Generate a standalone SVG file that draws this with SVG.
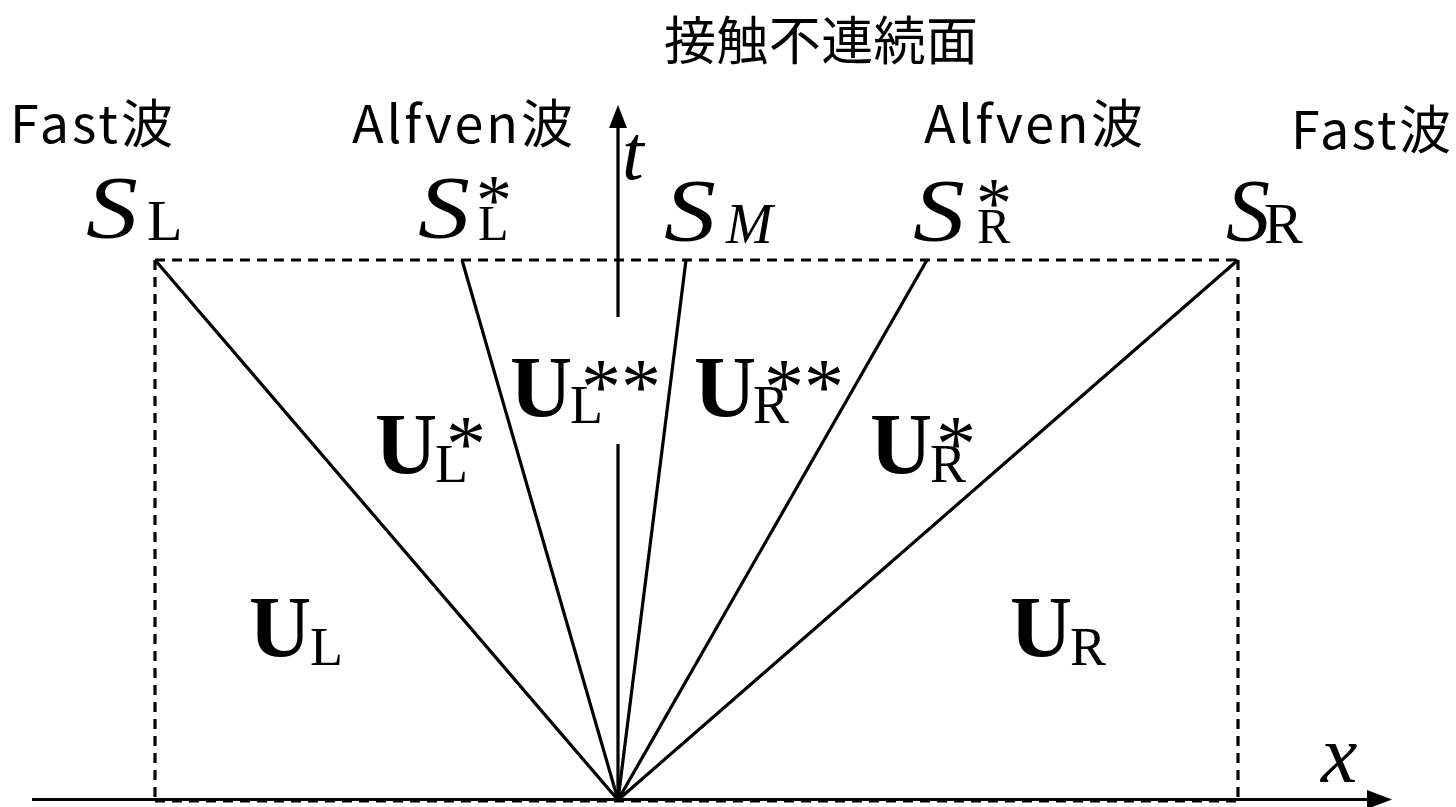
<svg xmlns="http://www.w3.org/2000/svg" width="1456" height="807" viewBox="0 0 1456 807">
<defs>
<style>
.ln{stroke:#000;stroke-width:3.2;fill:none}
.ds{stroke:#000;stroke-width:3.2;fill:none;stroke-dasharray:10 7}
.jp{font-family:"Noto Sans CJK JP","Noto Sans",sans-serif;font-size:52px;fill:#000}
.m{font-family:"Liberation Serif","Times New Roman",serif;fill:#000}
.it{font-style:italic}
.b{font-weight:bold}
</style>
</defs>
<rect width="1456" height="807" fill="#fff"/>
<g id="connectors">
<path class="ds" d="M155,260 H1238 M155,260 V800 M1238,260 V800 M155,801 H1238"/>
<path class="ln" d="M32,799.5 H1370"/>
<polygon points="1392,799.5 1367,790 1367,809" fill="#000"/>
<path class="ln" d="M618,800 V444 M618,317 V126"/>
<polygon points="618,105 609,128 627,128" fill="#000"/>
<path class="ln" d="M618,800 L155,260 M618,800 L462,260 M618,800 L686,260 M618,800 L927,260 M618,800 L1238,260"/>
</g>
<g id="title"><text class="jp" x="664" y="60" font-size="50" textLength="314">接触不連続面</text></g>
<g id="fastL"><text class="jp" x="10" y="143" textLength="163">Fast波</text></g>
<g id="alfvenL"><text class="jp" x="352" y="143" textLength="221">Alfven波</text></g>
<g id="alfvenR"><text class="jp" x="924" y="143" textLength="219">Alfven波</text></g>
<g id="fastR"><text class="jp" x="1291" y="149" textLength="160">Fast波</text></g>
<g id="t-label"><text class="m it" x="622" y="179" font-size="78">t</text></g>
<g id="x-label"><text class="m it" x="1321" y="782" font-size="82">x</text></g>
<g id="SL"><text class="m it" font-size="88" transform="translate(86,237) scale(1.18,1)">S</text><text class="m" x="147" y="240" font-size="58">L</text></g>
<g id="SLs"><text class="m it" font-size="88" transform="translate(418,237) scale(1.18,1)">S</text><text class="m" x="478" y="240" font-size="50">L</text><text class="m" x="476" y="224" font-size="72">*</text></g>
<g id="SM"><text class="m it" font-size="88" transform="translate(664,240) scale(1.18,1)">S</text><text class="m it" x="726" y="243" font-size="56">M</text></g>
<g id="SRs"><text class="m it" font-size="88" transform="translate(913,240) scale(1.18,1)">S</text><text class="m" x="977" y="243" font-size="50">R</text><text class="m" x="976" y="227" font-size="72">*</text></g>
<g id="SR"><text class="m it" x="1226" y="240" font-size="88">S</text><text class="m" x="1264" y="243" font-size="58">R</text></g>
<g id="UL"><text class="m b" x="249" y="656" font-size="86">U</text><text class="m" x="310" y="665" font-size="54">L</text></g>
<g id="UR"><text class="m b" x="1010" y="656" font-size="86">U</text><text class="m" x="1070" y="665" font-size="54">R</text></g>
<g id="ULs"><text class="m b" x="375" y="473" font-size="86">U</text><text class="m" x="435" y="482" font-size="54">L</text><text class="m" x="446" y="471" font-size="80">*</text></g>
<g id="ULss"><text class="m b" x="510" y="416" font-size="86">U</text><text class="m" x="570" y="423" font-size="54">L</text><text class="m" x="581" y="414" font-size="80">**</text></g>
<g id="URss"><text class="m b" x="694" y="416" font-size="86">U</text><text class="m" x="753" y="423" font-size="54">R</text><text class="m" x="764" y="414" font-size="80">**</text></g>
<g id="URs"><text class="m b" x="870" y="473" font-size="86">U</text><text class="m" x="930" y="482" font-size="54">R</text><text class="m" x="936" y="471" font-size="80">*</text></g>
</svg>
